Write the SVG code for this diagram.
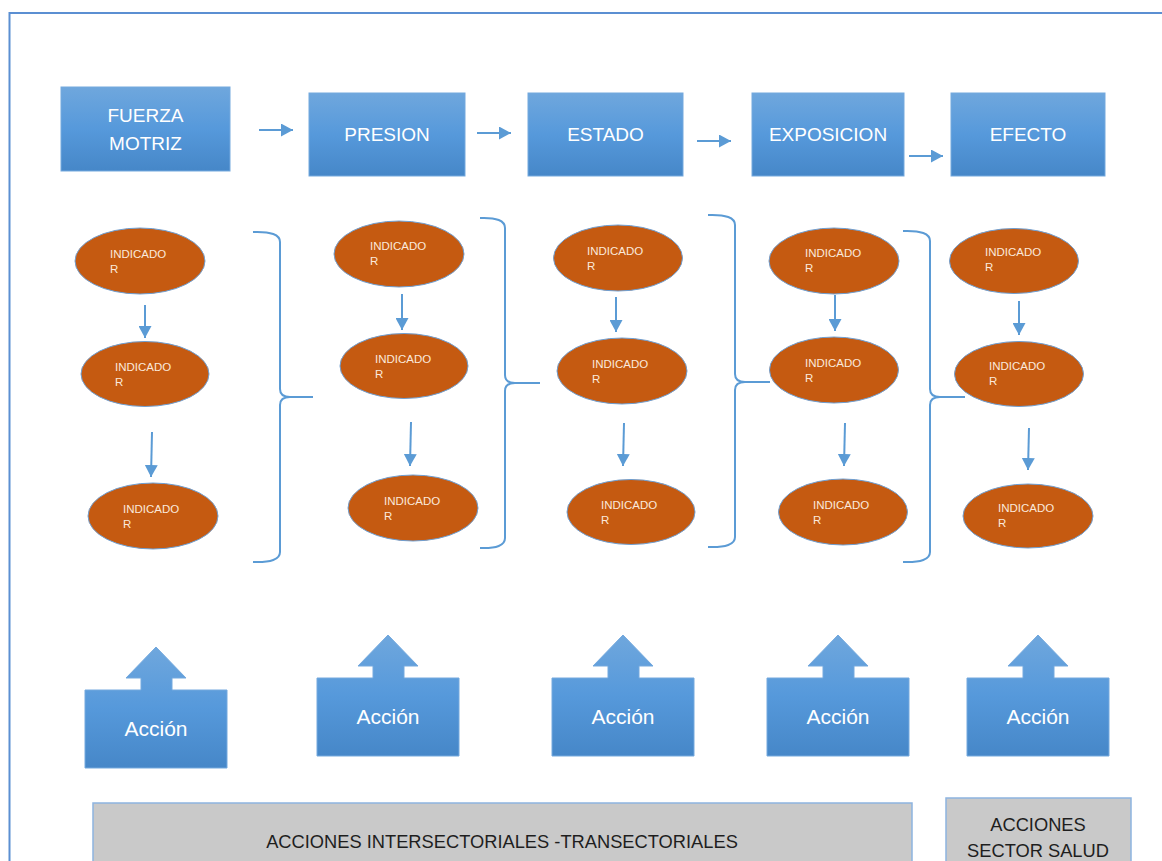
<svg xmlns="http://www.w3.org/2000/svg" width="1162" height="861" viewBox="0 0 1162 861">
  <defs>
    <linearGradient id="blueFill" x1="0" y1="0" x2="0" y2="1">
      <stop offset="0" stop-color="#6fa7dd"/>
      <stop offset="0.5" stop-color="#5699db"/>
      <stop offset="1" stop-color="#4687c8"/>
    </linearGradient>
    <marker id="head" viewBox="0 0 12 13" markerWidth="12" markerHeight="13" refX="12" refY="6.5" orient="auto" markerUnits="userSpaceOnUse">
      <path d="M0,0 L12,6.5 L0,13 Z" fill="#5b9bd5"/>
    </marker>
    <path id="accion" d="M0,0 H56 V-12 H41 L71,-43 L101,-12 H87 V0 H142 V78 H0 Z"/>
  </defs>
  <style>
    .box { fill: url(#blueFill); stroke: #74a9de; stroke-width: 1; }
    .boxText { font-family: "Liberation Sans", Arial, sans-serif; font-size: 19px; fill: #ffffff; text-anchor: middle; }
    .ind { fill: #c55a11; stroke: #6f9fd2; stroke-width: 1; }
    .indText { font-family: "Liberation Sans", Arial, sans-serif; font-size: 11.5px; fill: #fbe9dc; }
    .conn { stroke: #5b9bd5; stroke-width: 2; fill: none; }
    .brace { stroke: #5b9bd5; stroke-width: 2; fill: none; }
    .accText { font-family: "Liberation Sans", Arial, sans-serif; font-size: 21px; fill: #ffffff; text-anchor: middle; }
    .gray { fill: #c9c9c9; stroke: #8db4e0; stroke-width: 1.5; }
    .grayText { font-family: "Liberation Sans", Arial, sans-serif; font-size: 18.3px; fill: #1e1e1e; text-anchor: middle; }
  </style>

  <!-- page frame -->
  <rect x="9.5" y="13" width="1200" height="900" fill="#ffffff" stroke="#5b8fd2" stroke-width="2"/>

  <!-- stage boxes -->
  <g id="fuerza-motriz">
    <rect class="box" x="61" y="87" width="169" height="84"/>
    <text class="boxText" x="145.5" y="122">FUERZA</text>
    <text class="boxText" x="145.5" y="150">MOTRIZ</text>
  </g>
  <g id="presion">
    <rect class="box" x="309" y="93" width="156" height="83"/>
    <text class="boxText" x="387" y="141">PRESION</text>
  </g>
  <g id="estado">
    <rect class="box" x="528" y="93" width="155" height="83"/>
    <text class="boxText" x="605.5" y="141">ESTADO</text>
  </g>
  <g id="exposicion">
    <rect class="box" x="752" y="93" width="152" height="83"/>
    <text class="boxText" x="828" y="141">EXPOSICION</text>
  </g>
  <g id="efecto">
    <rect class="box" x="951" y="93" width="154" height="83"/>
    <text class="boxText" x="1028" y="141">EFECTO</text>
  </g>

  <!-- indicator ellipses, column by column -->
  <g id="ind-fm-1"><ellipse class="ind" cx="140" cy="261" rx="65" ry="33"/><text class="indText" x="110" y="258">INDICADO</text><text class="indText" x="110" y="273">R</text></g>
  <g id="ind-fm-2"><ellipse class="ind" cx="145" cy="374" rx="64" ry="32.5"/><text class="indText" x="115" y="371">INDICADO</text><text class="indText" x="115" y="386">R</text></g>
  <g id="ind-fm-3"><ellipse class="ind" cx="153" cy="516" rx="65" ry="33"/><text class="indText" x="123" y="513">INDICADO</text><text class="indText" x="123" y="528">R</text></g>

  <g id="ind-pr-1"><ellipse class="ind" cx="399" cy="254" rx="65" ry="33"/><text class="indText" x="370" y="250">INDICADO</text><text class="indText" x="370" y="265">R</text></g>
  <g id="ind-pr-2"><ellipse class="ind" cx="404" cy="366" rx="64" ry="32.5"/><text class="indText" x="375" y="363">INDICADO</text><text class="indText" x="375" y="378">R</text></g>
  <g id="ind-pr-3"><ellipse class="ind" cx="413" cy="508" rx="65" ry="33"/><text class="indText" x="384" y="505">INDICADO</text><text class="indText" x="384" y="520">R</text></g>

  <g id="ind-es-1"><ellipse class="ind" cx="618" cy="258" rx="64.5" ry="33"/><text class="indText" x="587" y="255">INDICADO</text><text class="indText" x="587" y="270">R</text></g>
  <g id="ind-es-2"><ellipse class="ind" cx="622" cy="371" rx="65" ry="33"/><text class="indText" x="592" y="368">INDICADO</text><text class="indText" x="592" y="383">R</text></g>
  <g id="ind-es-3"><ellipse class="ind" cx="631" cy="512" rx="64" ry="32.5"/><text class="indText" x="601" y="509">INDICADO</text><text class="indText" x="601" y="524">R</text></g>

  <g id="ind-ex-1"><ellipse class="ind" cx="834" cy="261" rx="65" ry="33"/><text class="indText" x="805" y="257">INDICADO</text><text class="indText" x="805" y="272">R</text></g>
  <g id="ind-ex-2"><ellipse class="ind" cx="834" cy="370" rx="64.5" ry="33"/><text class="indText" x="805" y="367">INDICADO</text><text class="indText" x="805" y="382">R</text></g>
  <g id="ind-ex-3"><ellipse class="ind" cx="843" cy="512" rx="64.5" ry="33"/><text class="indText" x="813" y="509">INDICADO</text><text class="indText" x="813" y="524">R</text></g>

  <g id="ind-ef-1"><ellipse class="ind" cx="1014" cy="261" rx="64.5" ry="32.5"/><text class="indText" x="985" y="256">INDICADO</text><text class="indText" x="985" y="271">R</text></g>
  <g id="ind-ef-2"><ellipse class="ind" cx="1019" cy="374" rx="64.5" ry="32.5"/><text class="indText" x="989" y="370">INDICADO</text><text class="indText" x="989" y="385">R</text></g>
  <g id="ind-ef-3"><ellipse class="ind" cx="1028" cy="516" rx="65" ry="32"/><text class="indText" x="998" y="512">INDICADO</text><text class="indText" x="998" y="527">R</text></g>

  <!-- action blocks -->
  <g id="accion-1" transform="translate(85,690)"><use href="#accion" class="box"/><text class="accText" x="71" y="46">Acción</text></g>
  <g id="accion-2" transform="translate(317,678)"><use href="#accion" class="box"/><text class="accText" x="71" y="46">Acción</text></g>
  <g id="accion-3" transform="translate(552,678)"><use href="#accion" class="box"/><text class="accText" x="71" y="46">Acción</text></g>
  <g id="accion-4" transform="translate(767,678)"><use href="#accion" class="box"/><text class="accText" x="71" y="46">Acción</text></g>
  <g id="accion-5" transform="translate(967,678)"><use href="#accion" class="box"/><text class="accText" x="71" y="46">Acción</text></g>

  <!-- bottom bands -->
  <g id="intersectoriales">
    <rect class="gray" x="93" y="803" width="819" height="80"/>
    <text class="grayText" x="502" y="848">ACCIONES INTERSECTORIALES -TRANSECTORIALES</text>
  </g>
  <g id="sector-salud">
    <rect class="gray" x="946" y="798" width="185" height="85"/>
    <text class="grayText" x="1038" y="831">ACCIONES</text>
    <text class="grayText" x="1038" y="857">SECTOR SALUD</text>
  </g>

  <!-- connectors -->
  <g id="connectors">
    <!-- stage to stage -->
    <line class="conn" x1="259" y1="130" x2="293" y2="130" marker-end="url(#head)"/>
    <line class="conn" x1="477" y1="133" x2="511" y2="133" marker-end="url(#head)"/>
    <line class="conn" x1="697" y1="141" x2="731" y2="141" marker-end="url(#head)"/>
    <line class="conn" x1="909" y1="156" x2="943" y2="156" marker-end="url(#head)"/>

    <!-- indicator chains -->
    <line class="conn" x1="145" y1="305" x2="145" y2="338" marker-end="url(#head)"/>
    <line class="conn" x1="152" y1="432" x2="151" y2="477" marker-end="url(#head)"/>
    <line class="conn" x1="402" y1="294" x2="402" y2="330" marker-end="url(#head)"/>
    <line class="conn" x1="411" y1="422" x2="410" y2="466" marker-end="url(#head)"/>
    <line class="conn" x1="616" y1="297" x2="616" y2="332" marker-end="url(#head)"/>
    <line class="conn" x1="624" y1="423" x2="623" y2="466" marker-end="url(#head)"/>
    <line class="conn" x1="835" y1="295" x2="835" y2="331" marker-end="url(#head)"/>
    <line class="conn" x1="845" y1="423" x2="844" y2="466" marker-end="url(#head)"/>
    <line class="conn" x1="1019" y1="301" x2="1019" y2="335" marker-end="url(#head)"/>
    <line class="conn" x1="1029" y1="428" x2="1028" y2="470" marker-end="url(#head)"/>

    <!-- grouping braces -->
    <path class="brace" d="M253,232 Q280,231 280,242 V389 Q280,397 290,397 H313 M290,397 Q280,397 280,405 V552 Q280,563 253,562"/>
    <path class="brace" d="M480,218 Q505,217 505,228 V375 Q505,383 515,383 H540 M515,383 Q505,383 505,391 V538 Q505,549 480,548"/>
    <path class="brace" d="M708,215 Q735,214 735,225 V374 Q735,382 745,382 H770 M745,382 Q735,382 735,390 V537 Q735,548 708,547"/>
    <path class="brace" d="M903,231 Q930,230 930,241 V389 Q930,397 940,397 H965 M940,397 Q930,397 930,405 V552 Q930,563 903,562"/>
  </g>
</svg>
